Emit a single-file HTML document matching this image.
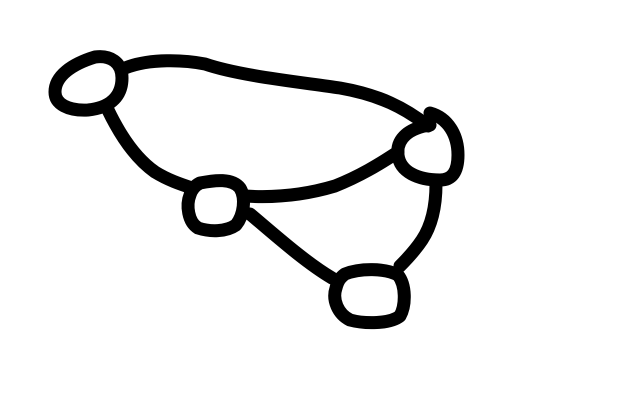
<!DOCTYPE html>
<html>
<head>
<meta charset="utf-8">
<style>
html,body{margin:0;padding:0;background:#fff;width:640px;height:400px;overflow:hidden;}
svg{display:block;}
path,ellipse{fill:none;stroke:#000;stroke-width:13;stroke-linecap:round;stroke-linejoin:round;}
</style>
</head>
<body>
<svg width="640" height="400" viewBox="0 0 640 400">
  <!-- edges -->
  <path d="M125,68 C150,58 185,60 205,64 C240,76 300,82 340,88 C380,95 405,108 428,126"/>
  <path d="M108,110 C120,135 135,158 155,172 C168,180 180,184 192,188"/>
  <path d="M245,196 C275,198 305,195 335,186 C360,176 378,165 398,152"/>
  <path d="M250,214 C275,235 305,262 332,278"/>
  <path d="M436,184 C436,205 432,225 422,240 C414,252 406,260 400,266"/>
  <!-- nodes -->
  <path d="M95,57 C110,55 122,62 122,78 C122,98 108,108 88,110 C68,111 55,104 55,92 C55,76 72,64 95,57 Z"/>
  <path d="M430,113 C448,118 458,135 458,155 C458,172 452,180 440,180 C418,180 400,172 398,155 C396,138 410,128 430,125"/>
  <path d="M200,183 C215,180 232,178 240,188 C246,198 244,215 236,225 C226,232 210,232 198,228 C188,222 186,205 190,195 C192,188 196,185 200,183 Z"/>
  <path d="M345,274 C360,268 385,268 398,275 C406,285 406,305 400,316 C390,324 365,324 350,320 C338,314 332,300 336,288 C338,280 341,277 345,274 Z"/>
</svg>
</body>
</html>
